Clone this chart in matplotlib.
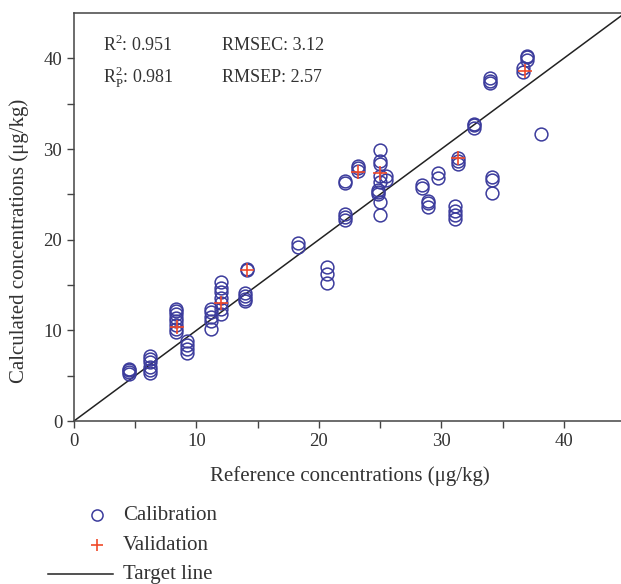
import matplotlib
matplotlib.use("Agg")
import matplotlib.pyplot as plt
from matplotlib.lines import Line2D

plt.rcParams['font.family'] = ['Liberation Serif', 'DejaVu Serif']
plt.rcParams['mathtext.fontset'] = 'custom'
plt.rcParams['mathtext.rm'] = 'Liberation Serif'

# Calibration clusters: reference x and calculated y values
cal_x = [4.5, 6.2, 8.3, 9.2, 11.2, 12.0, 14.0, 14.1, 18.3, 20.7, 22.1, 23.2,
         24.8, 25.0, 25.5, 28.4, 28.9, 29.7, 31.1, 31.4, 32.7, 34.0, 34.1,
         36.7, 37.0, 38.1]
cal_y = [
    [5.2, 5.4, 5.6, 5.7],
    [5.3, 5.6, 6.0, 6.5, 6.8, 7.2],
    [9.8, 10.2, 10.6, 11.0, 11.4, 11.8, 12.1, 12.3],
    [7.5, 7.9, 8.4, 8.8],
    [10.2, 11.0, 11.5, 12.0, 12.4],
    [11.8, 12.4, 13.0, 13.6, 14.2, 14.7, 15.3],
    [13.2, 13.5, 13.8, 14.1],
    [16.6, 16.8],
    [19.2, 19.6],
    [15.2, 16.2, 17.0],
    [22.2, 22.5, 22.8, 26.2, 26.5],
    [27.6, 27.9, 28.1],
    [25.0, 25.3, 25.5],
    [22.7, 24.1, 26.4, 27.0, 28.3, 28.7, 29.9],
    [26.6, 27.0],
    [25.7, 26.0],
    [23.6, 24.0, 24.3],
    [26.8, 27.3],
    [22.3, 22.7, 23.2, 23.7],
    [28.3, 28.7, 29.0],
    [32.3, 32.6, 32.8],
    [37.3, 37.5, 37.8],
    [25.1, 26.6, 26.9],
    [38.5, 38.9],
    [39.8, 40.1, 40.3],
    [31.7],
]
val_x = [8.4, 12.0, 14.1, 23.2, 25.0, 31.4, 36.8]
val_y = [10.4, 13.0, 16.7, 27.5, 27.3, 29.0, 38.6]
target = [0, 45]

xticks = [0, 10, 20, 30, 40]
yticks = [0, 10, 20, 30, 40]

cx, cy = [], []
for x, ys in zip(cal_x, cal_y):
    for y in ys:
        cx.append(x)
        cy.append(y)

W, H = 621, 584
fig = plt.figure(figsize=(W / 100, H / 100), dpi=100)
ax = fig.add_axes([74 / W, 1 - 421 / H, (625 - 74) / W, (421 - 13) / H])

navy = '#3b3b9c'
red = '#f04a2a'
tc = '#333333'
ax.plot(target, target, color='#222222', lw=1.1, zorder=1)
ax.plot(cx, cy, 'o', mfc='none', mec=navy, ms=9.2, mew=1.1, zorder=2)
ax.plot(val_x, val_y, '+', color=red, ms=9.5, mew=1.2, zorder=3)

ax.set_xlim(0, 45)
ax.set_ylim(0, 45)
ax.set_xticks(xticks)
ax.set_yticks(yticks)
ax.set_xticks([5, 15, 25, 35, 45], minor=True)
ax.set_yticks([5, 15, 25, 35], minor=True)
ax.tick_params(which='both', direction='out', length=5, width=1, color='#444444',
               labelsize=13.5, labelcolor=tc)
for s in ['left', 'bottom', 'top']:
    ax.spines[s].set_color('#444444')
    ax.spines[s].set_linewidth(1.1)
ax.spines['right'].set_visible(False)

ax.set_xlabel('Reference concentrations (μg/kg)', fontsize=15, color=tc, labelpad=12)
ax.set_ylabel('Calculated concentrations (μg/kg)', fontsize=15, color=tc)
ax.yaxis.set_label_coords(-45 / (625 - 74), (421 - 241) / (421 - 13))

fig.text(103 / W, 1 - 45 / H, r'R$^{2}$: 0.951', fontsize=13, color=tc, va='center')
fig.text(222 / W, 1 - 45 / H, 'RMSEC: 3.12', fontsize=13, color=tc, va='center')
fig.text(103 / W, 1 - 77 / H, r'R$_{\rm P}^{2}$: 0.981', fontsize=13, color=tc, va='center')
fig.text(222 / W, 1 - 77 / H, 'RMSEP: 2.57', fontsize=13, color=tc, va='center')

# Legend (drawn manually in figure coordinates)
fig.add_artist(Line2D([97 / W], [1 - 515 / H], marker='o', mfc='none', mec=navy,
                      ms=8, mew=1.1, transform=fig.transFigure))
fig.add_artist(Line2D([97 / W], [1 - 545 / H], marker='+', color=red,
                      ms=9, mew=1.2, transform=fig.transFigure))
fig.add_artist(Line2D([48 / W, 113 / W], [1 - 574 / H, 1 - 574 / H], color='#222222',
                      lw=1.1, transform=fig.transFigure))
fig.text(123 / W, 1 - 515 / H, 'Calibration', fontsize=15, color=tc, va='center')
fig.text(123 / W, 1 - 545 / H, 'Validation', fontsize=15, color=tc, va='center')
fig.text(123 / W, 1 - 574 / H, 'Target line', fontsize=15, color=tc, va='center')

fig.savefig('out.png', dpi=100)
